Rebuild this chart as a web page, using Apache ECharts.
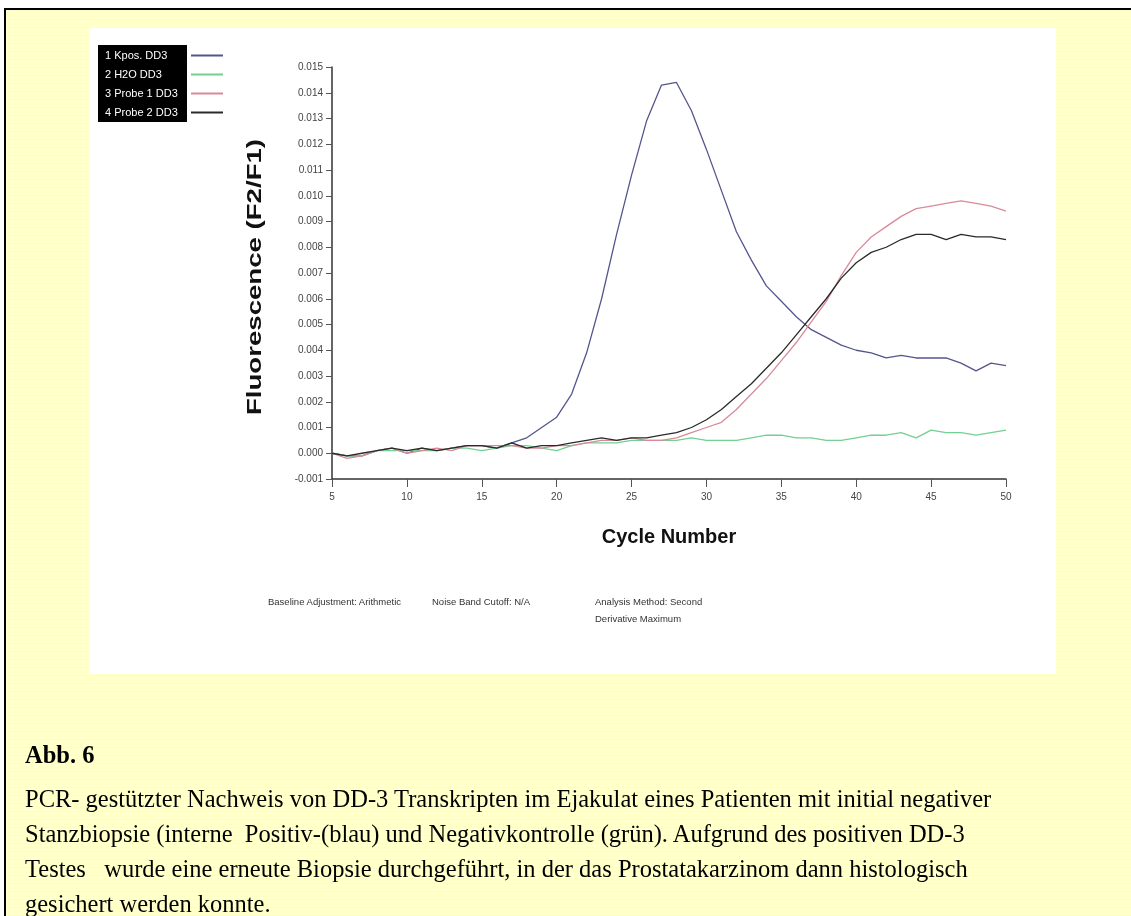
<!DOCTYPE html>
<html>
<head>
<meta charset="utf-8">
<script src="https://cdn.jsdelivr.net/npm/echarts@6/dist/echarts.min.js"></script>
<style>
  html, body { margin: 0; padding: 0; width: 1131px; height: 916px; overflow: hidden; background: #fff; }
  #frame { position: absolute; left: 4px; top: 8px; width: 1140px; height: 920px;
    border-left: 2.5px solid #000; border-top: 2.5px solid #000;
    background: repeating-linear-gradient(to bottom, #ffffc8 0px, #ffffc8 3px, #ffffff 3px, #ffffff 4px); }
  #panel { position: absolute; left: 90px; top: 28px; width: 966px; height: 645px; background: #fff; }
  #chart { position: absolute; left: 0; top: 0; width: 1131px; height: 916px; }
  .note { position: absolute; font-family: "Liberation Sans", Arial, sans-serif; font-size: 9.5px; color: #333; line-height: 17px; white-space: pre; }
  #caption { position: absolute; left: 25px; top: 737px; font-family: "Liberation Serif", "Times New Roman", serif; font-size: 24.5px; color: #000; white-space: pre; line-height: 35px; }
  #caption b { display: block; margin-bottom: 9px; }
</style>
</head>
<body>
<div id="frame"></div>
<div id="panel"></div>
<div id="chart"></div>
<div class="note" style="left:268px; top:593px;">Baseline Adjustment: Arithmetic</div>
<div class="note" style="left:432px; top:593px;">Noise Band Cutoff: N/A</div>
<div class="note" style="left:595px; top:593px;">Analysis Method: Second
Derivative Maximum</div>
<div id="caption"><b>Abb. 6</b>PCR- gestützter Nachweis von DD-3 Transkripten im Ejakulat eines Patienten mit initial negativer
Stanzbiopsie (interne  Positiv-(blau) und Negativkontrolle (grün). Aufgrund des positiven DD-3
Testes   wurde eine erneute Biopsie durchgeführt, in der das Prostatakarzinom dann histologisch
gesichert werden konnte.</div>
<script>
const cycles = [5,6,7,8,9,10,11,12,13,14,15,16,17,18,19,20,21,22,23,24,25,26,27,28,29,30,31,32,33,34,35,36,37,38,39,40,41,42,43,44,45,46,47,48,49,50];

const seriesNames = ['1 Kpos. DD3', '2 H2O DD3', '3 Probe 1 DD3', '4 Probe 2 DD3'];

const kpos = [0.0000,-0.0001,-0.0001,0.0001,0.0002,0.0000,0.0002,0.0001,0.0002,0.0003,0.0003,0.0002,0.0004,0.0006,0.0010,0.0014,0.0023,0.0039,0.0060,0.0085,0.0108,0.0129,0.0143,0.0144,0.0133,0.0118,0.0102,0.0086,0.0075,0.0065,0.0059,0.0053,0.0048,0.0045,0.0042,0.0040,0.0039,0.0037,0.0038,0.0037,0.0037,0.0037,0.0035,0.0032,0.0035,0.0034];

const h2o = [0.0000,-0.0001,-0.0001,0.0001,0.0001,0.0001,0.0001,0.0001,0.0002,0.0002,0.0001,0.0002,0.0003,0.0003,0.0002,0.0001,0.0003,0.0004,0.0004,0.0004,0.0005,0.0005,0.0005,0.0005,0.0006,0.0005,0.0005,0.0005,0.0006,0.0007,0.0007,0.0006,0.0006,0.0005,0.0005,0.0006,0.0007,0.0007,0.0008,0.0006,0.0009,0.0008,0.0008,0.0007,0.0008,0.0009];

const probe1 = [0.0000,-0.0002,-0.0001,0.0001,0.0002,0.0000,0.0001,0.0002,0.0001,0.0003,0.0003,0.0003,0.0003,0.0002,0.0002,0.0003,0.0003,0.0004,0.0005,0.0005,0.0006,0.0005,0.0005,0.0006,0.0008,0.0010,0.0012,0.0017,0.0023,0.0029,0.0036,0.0043,0.0051,0.0059,0.0069,0.0078,0.0084,0.0088,0.0092,0.0095,0.0096,0.0097,0.0098,0.0097,0.0096,0.0094];

const probe2 = [0.0000,-0.0001,0.0000,0.0001,0.0002,0.0001,0.0002,0.0001,0.0002,0.0003,0.0003,0.0002,0.0004,0.0002,0.0003,0.0003,0.0004,0.0005,0.0006,0.0005,0.0006,0.0006,0.0007,0.0008,0.0010,0.0013,0.0017,0.0022,0.0027,0.0033,0.0039,0.0046,0.0053,0.0060,0.0068,0.0074,0.0078,0.0080,0.0083,0.0085,0.0085,0.0083,0.0085,0.0084,0.0084,0.0083];

const xTicks = { min: 5, max: 50, interval: 5 };
const yTicks = { min: -0.001, max: 0.015, interval: 0.001 };

const colors = ['#55558e', '#72d092', '#d98a98', '#2a2a2a'];
const values = [kpos, h2o, probe1, probe2];

const chart = echarts.init(document.getElementById('chart'), null, { renderer: 'canvas' });
const FONT = '"Liberation Sans", Arial, sans-serif';

chart.setOption({
  animation: false,
  backgroundColor: 'transparent',
  color: colors,
  grid: { left: 332, right: 125, top: 67, bottom: 437, containLabel: false },
  legend: {
    orient: 'vertical',
    left: 100,
    top: 45,
    align: 'right',
    itemGap: 8,
    itemWidth: 32,
    itemHeight: 2,
    icon: 'rect',
    selectedMode: false,
    data: seriesNames,
    formatter: '{a|{name}}',
    textStyle: {
      color: '#fff', fontSize: 11, fontFamily: FONT,
      rich: { a: { width: 81, align: 'left', color: '#fff', fontSize: 11, fontFamily: FONT } }
    }
  },
  graphic: [
    { type: 'rect', left: 98, top: 45, z: -10, shape: { width: 89, height: 77 }, style: { fill: '#000' } },
    { type: 'text', x: 255, y: 277, rotation: Math.PI / 2, scaleX: 1.38, scaleY: 1,
      style: { text: 'Fluorescence (F2/F1)', font: 'bold 20px "Liberation Sans", Arial, sans-serif', fill: '#111', align: 'center', verticalAlign: 'middle' } }
  ],
  xAxis: {
    type: 'value',
    min: xTicks.min, max: xTicks.max, interval: xTicks.interval,
    axisLine: { show: true, onZero: false, lineStyle: { color: '#333', width: 1.5 } },
    axisTick: { show: true, length: 8, lineStyle: { color: '#555', width: 1 } },
    axisLabel: { fontSize: 10, color: '#444', margin: 13, fontFamily: FONT },
    splitLine: { show: false },
    name: 'Cycle Number',
    nameLocation: 'middle',
    nameGap: 48,
    nameTextStyle: { fontSize: 20, fontWeight: 'bold', color: '#111', fontFamily: FONT }
  },
  yAxis: {
    type: 'value',
    min: yTicks.min, max: yTicks.max, interval: yTicks.interval,
    axisLine: { show: true, onZero: false, lineStyle: { color: '#333', width: 1.5 } },
    axisTick: { show: true, length: 6, lineStyle: { color: '#555', width: 1 } },
    axisLabel: { fontSize: 10, color: '#444', margin: 9, fontFamily: FONT, formatter: v => v.toFixed(3) },
    splitLine: { show: false }
  },
  series: seriesNames.map((name, i) => ({
    name: name,
    type: 'line',
    showSymbol: false,
    symbol: 'none',
    smooth: false,
    lineStyle: { width: 1.3, color: colors[i] },
    itemStyle: { color: colors[i] },
    data: cycles.map((c, j) => [c, values[i][j]])
  }))
});
</script>
</body>
</html>
